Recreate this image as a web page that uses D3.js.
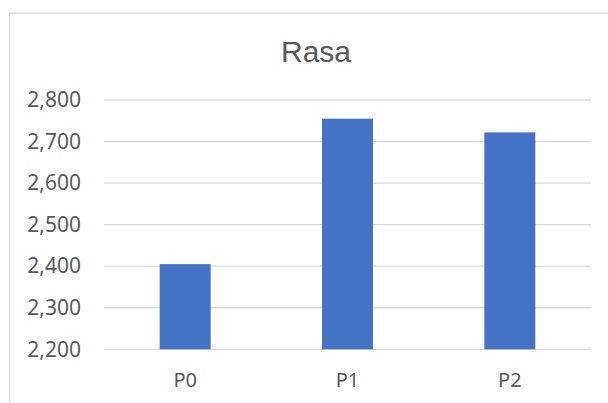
<!DOCTYPE html>
<html>
<head>
<meta charset="utf-8">
<script src="https://cdn.jsdelivr.net/npm/d3@7"></script>
<style>
  html, body { margin: 0; padding: 0; background: #ffffff; }
  svg { display: block; }
</style>
</head>
<body>
<svg id="chart" width="608" height="403"></svg>
<script>
const categories = ["P0", "P1", "P2"];
const values = [2405, 2755, 2722];
const yTicks = [2200, 2300, 2400, 2500, 2600, 2700, 2800];
const title = "Rasa";

const svg = d3.select("#chart");
const plot = { left: 104, right: 591, top: 100, bottom: 349.3 };

// chart border (extends beyond the frame at right and bottom)
svg.append("rect")
  .attr("x", 9.5).attr("y", 13)
  .attr("width", 640).attr("height", 420)
  .attr("fill", "#ffffff")
  .attr("stroke", "#d9d9d9")
  .attr("stroke-width", 1.5);

const x = d3.scaleBand()
  .domain(categories)
  .range([plot.left, plot.right])
  .paddingInner(0.686)
  .paddingOuter(0.343);

const y = d3.scaleLinear()
  .domain([2200, 2800])
  .range([plot.bottom, plot.top]);

// gridlines
svg.append("g")
  .selectAll("line")
  .data(yTicks)
  .join("line")
  .attr("x1", plot.left).attr("x2", plot.right)
  .attr("y1", d => y(d)).attr("y2", d => y(d))
  .attr("stroke", "#d9d9d9")
  .attr("stroke-width", 1.3);

// y axis labels
const yAxis = d3.axisLeft(y)
  .tickValues(yTicks)
  .tickFormat(d3.format(","))
  .tickSize(0)
  .tickPadding(23);
const gy = svg.append("g")
  .attr("transform", `translate(${plot.left},0)`)
  .call(yAxis);
gy.select(".domain").remove();
gy.selectAll("text")
  .attr("fill", "#595959")
  .style("font-family", "'Noto Sans', 'Open Sans', sans-serif")
  .style("font-size", "21px");

// bars
svg.append("g")
  .selectAll("rect")
  .data(categories)
  .join("rect")
  .attr("x", d => x(d))
  .attr("width", x.bandwidth())
  .attr("y", (d, i) => y(values[i]))
  .attr("height", (d, i) => y(2200) - y(values[i]))
  .attr("fill", "#4472c4");

// x axis labels
const xAxis = d3.axisBottom(x).tickSize(0).tickPadding(24);
const gx = svg.append("g")
  .attr("transform", `translate(0,${plot.bottom})`)
  .call(xAxis);
gx.select(".domain").remove();
gx.selectAll("text")
  .attr("fill", "#595959")
  .style("font-family", "'Noto Sans', 'Open Sans', sans-serif")
  .style("font-size", "20px");

// title
svg.append("text")
  .attr("x", 316)
  .attr("y", 61.7)
  .attr("text-anchor", "middle")
  .attr("fill", "#595959")
  .style("font-family", "'Liberation Sans', Arial, sans-serif")
  .style("font-size", "30px")
  .text(title);
</script>
</body>
</html>
